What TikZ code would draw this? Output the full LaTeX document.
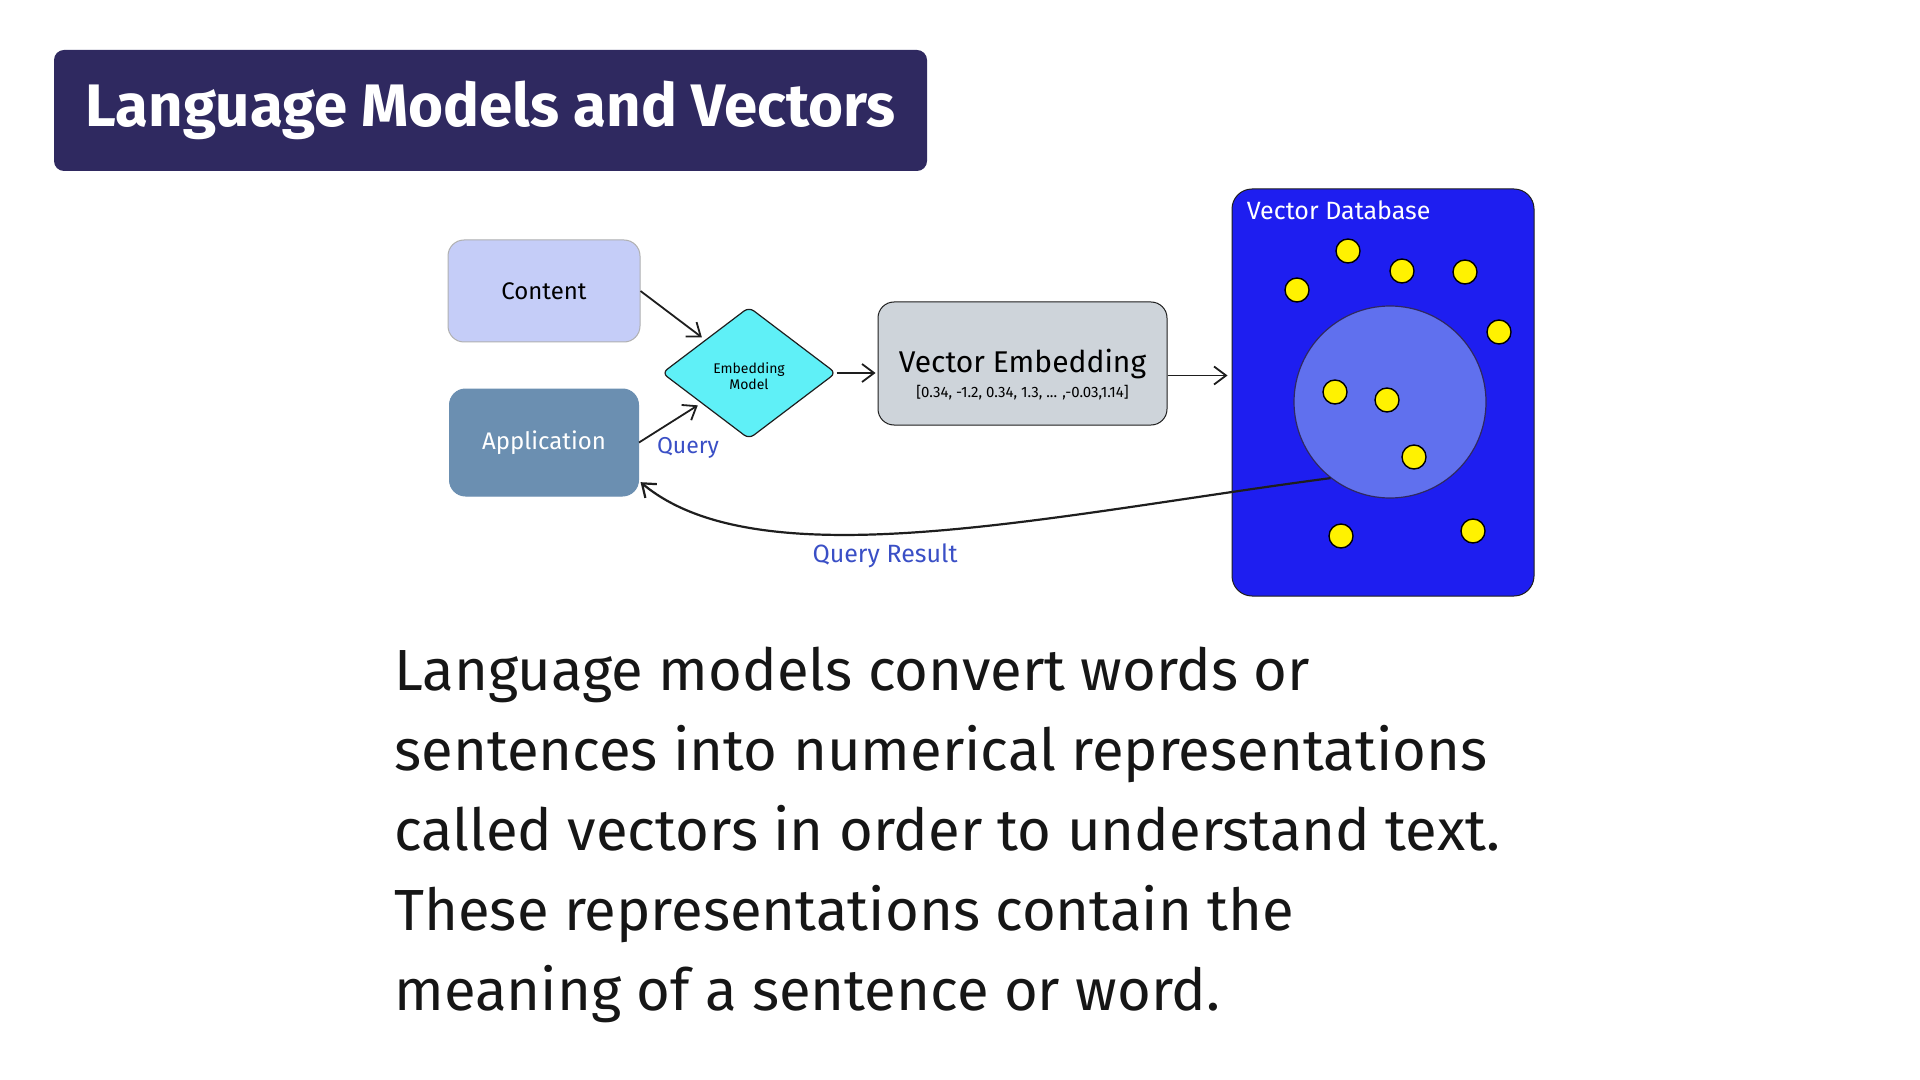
\documentclass[tikz,border=0pt]{standalone}
\usepackage{fontspec}
\setmainfont{Fira Sans}
\usepackage{tikz}
\usetikzlibrary{positioning,arrows.meta,shapes.geometric}
\definecolor{titlebg}{RGB}{47,41,96}
\definecolor{contentfill}{RGB}{197,205,248}
\definecolor{appfill}{RGB}{107,143,177}
\definecolor{modelfill}{RGB}{95,240,247}
\definecolor{embfill}{RGB}{206,212,218}
\definecolor{dbfill}{RGB}{30,30,240}
\definecolor{clusterfill}{RGB}{96,112,238}
\definecolor{dotfill}{RGB}{255,242,0}
\definecolor{inkblue}{RGB}{58,79,198}
\definecolor{ink}{RGB}{30,30,30}
\definecolor{bodytext}{RGB}{22,22,22}

\begin{document}
\begin{tikzpicture}[x=0.5pt, y=-0.5pt,
		card/.style={rounded corners=8pt, draw=ink!60, line width=0.5pt, align=center, inner sep=0pt},
		arr/.style={-{Straight Barb[length=6pt,width=9pt]}, line width=0.9pt, ink},
		lbl/.style={font=\fontsize{11.5}{12}\selectfont, inkblue},
		dot/.style={circle, draw=black, line width=0.7pt, fill=dotfill, minimum size=12pt, inner sep=0pt}]
		\useasboundingbox[fill=white] (0,0) rectangle (1920,1080);
		% title bar
		\node[fill=titlebg, rounded corners=5pt, minimum width=436.5pt, minimum height=60.5pt,
			text=white, font=\bfseries\fontsize{30}{32}\selectfont] (title) at (490.5,110.5)
			{Language Models and Vectors};
		% diagram
		\node[card, fill=contentfill, draw=ink!35, minimum width=96pt, minimum height=51pt,
			font=\fontsize{12}{14}\selectfont] (content) at (544,291) {Content};
		\node[card, fill=appfill, draw=appfill, minimum width=94.5pt, minimum height=53.5pt,
			text=white, font=\fontsize{12}{14}\selectfont, below=23pt of content] (app) {Application};
		\node[diamond, draw=ink, fill=modelfill, line width=0.6pt, rounded corners=3pt,
			minimum width=87pt, minimum height=66pt, inner sep=0pt, align=center,
			font=\fontsize{7}{8}\selectfont] (model) at (749,373) {\\[1pt]Embedding\\Model};
		\node[card, fill=embfill, draw=ink, minimum width=144.5pt, minimum height=61.5pt,
			font=\fontsize{15}{16}\selectfont] (vecemb) at (1022.5,363.5) {Vector Embedding};
		\node[inner sep=0pt, font=\fontsize{7.5}{8}\selectfont] (vecarr)
			at ([yshift=-14.5pt]vecemb.center) {[0.34, -1.2, 0.34, 1.3, ... ,-0.03,1.14]};
		\node[card, fill=dbfill, draw=ink, rounded corners=10pt, minimum width=151pt,
			minimum height=203.5pt] (vdb) at (1383,392.5) {};
		\node[anchor=north west, inner sep=0pt, text=white, font=\fontsize{12.5}{13}\selectfont]
			(vdblabel) at ([xshift=7.5pt,yshift=-6pt]vdb.north west) {Vector Database};
		\node[circle, draw=titlebg, fill=clusterfill, line width=0.6pt, minimum size=96pt,
			inner sep=0pt] (cluster) at (1390,402) {};
		\foreach \x/\y [count=\i] in {1348/251, 1402/271, 1465/272, 1297/290, 1499/332,
			1335/392, 1387/400, 1414/457, 1341/536, 1473/531}
			\node[dot] (dot\i) at (\x,\y) {};
		\draw[arr, shorten >=2pt] (content.east) -- (model);
		\draw[arr, shorten >=2pt] (app.east) -- (model);
		\draw[arr, shorten >=1pt] (model.east) -- (model.east -| vecemb.west);
		\draw[arr, shorten >=2pt] ([yshift=-6pt]vecemb.east) -- ([yshift=-6pt]vecemb.east -| vdb.west);
		\draw[arr, line width=1.1pt, shorten >=1pt] (cluster.232) .. controls (1050,515) and (760,582) .. (app.-22);
		\node[lbl] (query) at (688,448) {Query};
		\node[lbl, font=\fontsize{12.5}{13}\selectfont] (result) at (885,556) {Query Result};
		% body text
		\node[anchor=north west, inner sep=0pt, align=left, text=bodytext,
			font=\fontsize{29}{40}\selectfont] (body) at (394,647)
			{Language models convert words or\\
			 sentences into numerical representations\\
			 called vectors in order to understand text.\\
			 These representations contain the\\
			 meaning of a sentence or word.};
	\end{tikzpicture}
\end{document}
